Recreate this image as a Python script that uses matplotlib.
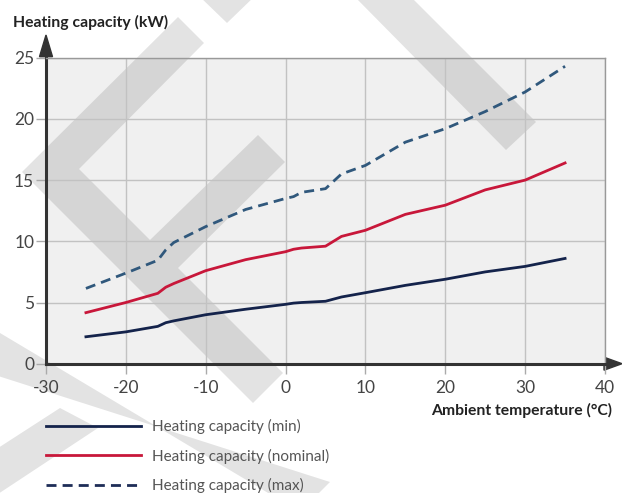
import matplotlib
matplotlib.use('Agg')
import matplotlib.pyplot as plt
from matplotlib.lines import Line2D
from matplotlib.patches import Polygon

# data
temps = [-25, -20, -16, -15, -14, -10, -5, 0, 1, 2, 5, 7, 10, 15, 20, 25, 30, 35]
cap_min = [2.2, 2.6, 3.05, 3.35, 3.5, 4.0, 4.45, 4.85, 4.95, 5.0, 5.1, 5.45, 5.8, 6.4, 6.9, 7.5, 7.95, 8.6]
cap_nom = [4.17, 5.0, 5.75, 6.25, 6.55, 7.6, 8.5, 9.15, 9.35, 9.45, 9.6, 10.4, 10.9, 12.2, 12.95, 14.2, 15.0, 16.4]
cap_max = [6.15, 7.4, 8.45, 9.3, 9.9, 11.2, 12.6, 13.5, 13.65, 14.0, 14.3, 15.5, 16.2, 18.1, 19.2, 20.6, 22.2, 24.3]

labels = ['Heating capacity (min)', 'Heating capacity (nominal)', 'Heating capacity (max)']
xticks = [-30, -20, -10, 0, 10, 20, 30, 40]
yticks = [0, 5, 10, 15, 20, 25]

W, H = 622, 493
plt.rcParams['font.family'] = ['Lato', 'DejaVu Sans']
plt.rcParams['axes.unicode_minus'] = False

fig = plt.figure(figsize=(W / 100, H / 100), dpi=100)
# pixel space helper axes (y down)
bg = fig.add_axes([0, 0, 1, 1], zorder=-1)
bg.set_xlim(0, W)
bg.set_ylim(H, 0)
bg.axis('off')

L, R, T, B = 46, 605, 57.7, 363.7
ax = fig.add_axes([L / W, 1 - B / H, (R - L) / W, (B - T) / H], zorder=1)
ax.set_facecolor('#f0f0f0')

# watermark shapes (pixel coords)
shapes = [
    [(178, 17), (22, 172), (253, 403), (283, 373), (178, 268), (285, 162),
     (258, 135), (150, 240), (79, 169), (204, 43)],
    [(198, -5), (227, 23), (256, -5)],
    [(353, -5), (506, 150), (536, 122), (409, -5)],
    [(-5, 330), (300, 512), (330, 482), (-5, 375)],
    [(-5, 450), (60, 408), (98, 428), (-5, 496)],
]
for s in shapes:
    ax.add_patch(Polygon(s, closed=True, facecolor='black', alpha=0.11,
                         edgecolor='none', transform=bg.transData,
                         clip_on=False, zorder=1))

ax.plot(temps, cap_min, color='#14234b', lw=2.0, zorder=3)
ax.plot(temps, cap_nom, color='#c8173a', lw=2.0, zorder=3)
ax.plot(temps, cap_max, color='#30587c', lw=2.0, zorder=3, dashes=(3.6, 2.2))

ax.set_xlim(-30, 40)
ax.set_ylim(0, 25)
ax.set_xticks(xticks)
ax.set_yticks(yticks)
ax.grid(True, color='#c2c2c2', lw=1.0)
ax.tick_params(axis='both', direction='out', length=7.5, width=1, color='#aaaaaa',
               labelcolor='#444444', labelsize=12.5)
ax.tick_params(axis='y', pad=1)
ax.tick_params(axis='x', pad=4)

for side in ['top', 'right']:
    ax.spines[side].set_color('#999999')
    ax.spines[side].set_linewidth(1.0)
for side in ['left', 'bottom']:
    ax.spines[side].set_color('#333333')
    ax.spines[side].set_linewidth(2.2)

# arrow heads
bg.add_patch(Polygon([(R - 1, B - 6.5), (W, B), (R - 1, B + 6.5)], color='#333333'))
bg.add_patch(Polygon([(L - 6.5, T - 1), (L, 35), (L + 6.5, T - 1)], color='#333333'))

fig.text(13 / W, 1 - 22 / H, 'Heating capacity (kW)', ha='left', va='center',
         fontsize=11.3, fontweight='bold', color='#222222')
fig.text(612 / W, 1 - 410 / H, 'Ambient temperature (\u00b0C)', ha='right', va='center',
         fontsize=11.3, fontweight='bold', color='#222222')

handles = [
    Line2D([], [], color='#14234b', lw=2.0),
    Line2D([], [], color='#c8173a', lw=2.0),
    Line2D([], [], color='#1e2d57', lw=2.0, dashes=(3.6, 2.2)),
]
leg = fig.legend(handles, labels, loc='upper left', bbox_to_anchor=(46 / W, 1 - 419 / H),
                 frameon=False, borderpad=0, borderaxespad=0, fontsize=11,
                 handlelength=6.2, handletextpad=0.75, labelspacing=0.95)
for t in leg.get_texts():
    t.set_color('#555555')

fig.savefig('out.png', dpi=100)
